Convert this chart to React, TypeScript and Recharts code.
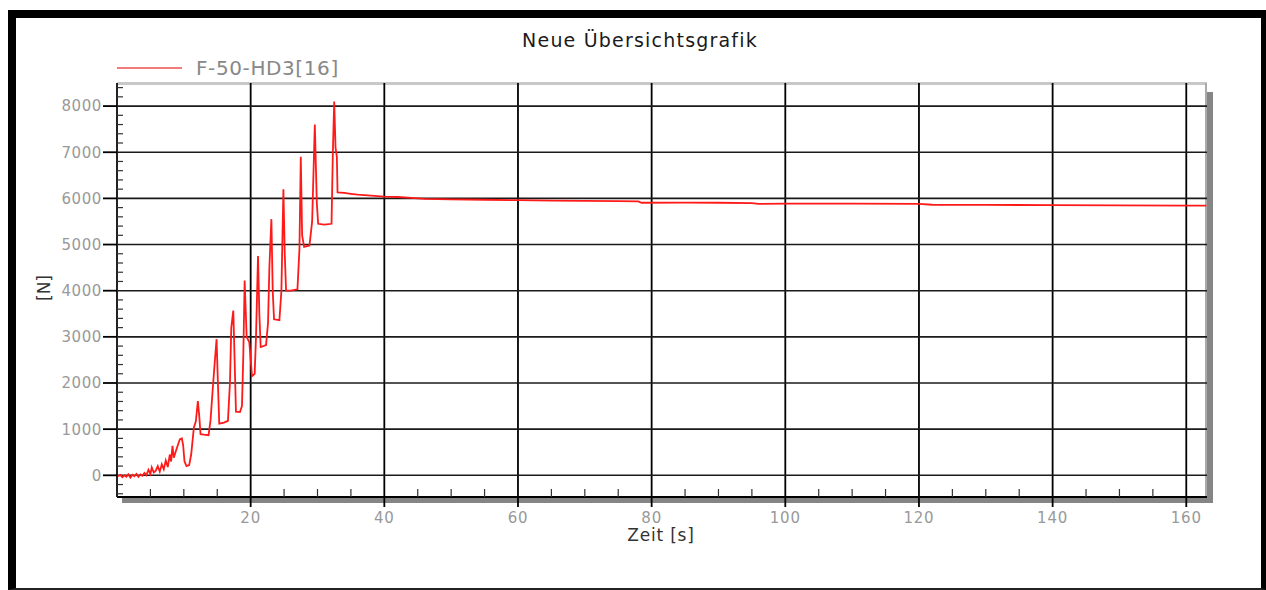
import { LineChart, Line, XAxis, YAxis, ReferenceLine } from 'recharts';

// Zeit [s]
const timeS = [
  0.1, 0.5, 0.8, 1.1, 1.4, 1.7, 2.0, 2.3, 2.6, 2.9, 3.2, 3.5, 3.8, 4.1, 4.4, 4.7, 5.0, 5.2, 5.5, 5.8,
  6.1, 6.4, 6.7, 7.0, 7.3, 7.6, 7.9, 8.1, 8.3, 8.5, 8.8, 9.1, 9.4, 9.7, 9.9, 10.1, 10.4, 10.8, 11.1,
  11.5, 11.8, 12.1, 12.3, 12.5, 13.0, 13.7, 14.0, 14.3, 14.6, 14.9, 15.1, 15.3, 16.0, 16.6, 16.9,
  17.1, 17.4, 17.6, 17.8, 18.4, 18.7, 18.9, 19.1, 19.4, 19.8, 20.2, 20.6, 20.8, 21.1, 21.3, 21.5,
  22.3, 22.6, 22.8, 23.1, 23.3, 23.5, 24.3, 24.6, 24.9, 25.1, 25.3, 26.0, 27.0, 27.3, 27.5, 27.7,
  28.0, 28.8, 29.2, 29.6, 29.9, 30.1, 31.0, 32.1, 32.3, 32.5, 32.7, 32.9, 33.0, 34, 35, 36, 38, 40,
  42, 44, 46, 50, 55, 60, 65, 70, 75, 78, 78.5, 85, 90, 95, 96, 100, 110, 120, 122, 130, 140, 150,
  160, 163,
];

// F-50-HD3[16] in [N]
const forceN = [
  -20, 10, -40, 0, -30, 20, -50, 10, -20, 30, -30, 20, -10, 50, 0, 120, 30, 170, 60, 100,
  200, 80, 240, 130, 320, 180, 450, 300, 640, 380, 520, 650, 780, 800, 650, 300, 200, 220, 450,
  1030, 1170, 1610, 1300, 890, 880, 870, 1200, 1820, 2400, 2950, 2000, 1120, 1140, 1180, 2000,
  3200, 3570, 2500, 1380, 1370, 1500, 2600, 4220, 3000, 2880, 2150, 2200, 3000, 4750, 3500, 2780,
  2820, 3300, 4500, 5550, 4000, 3380, 3360, 4000, 6200, 4800, 4000, 4000, 4030, 4900, 6900, 5200,
  4950, 4980, 5500, 7600, 5900, 5450, 5430, 5450, 7000, 8100, 7100, 6900, 6130, 6120, 6100, 6080, 6060, 6040,
  6030, 6010, 5990, 5978, 5970, 5962, 5952, 5946, 5940, 5936, 5905, 5910, 5905, 5898, 5880, 5885, 5885, 5880, 5862, 5858, 5855, 5850,
  5845, 5845,
];

const xMajorTicks = [20, 40, 60, 80, 100, 120, 140, 160];
const xMinorTicks = [
  5, 10, 15, 25, 30, 35, 45, 50, 55, 65, 70, 75, 85, 90, 95, 105, 110, 115, 125, 130, 135, 145, 150, 155,
];
const yMajorTicks = [0, 1000, 2000, 3000, 4000, 5000, 6000, 7000, 8000];
const yMinorTicks = [
  -400, -200, 200, 400, 600, 800, 1200, 1400, 1600, 1800, 2200, 2400, 2600, 2800, 3200, 3400, 3600, 3800,
  4200, 4400, 4600, 4800, 5200, 5400, 5600, 5800, 6200, 6400, 6600, 6800, 7200, 7400, 7600, 7800, 8200, 8400,
];

const data = timeS.map((t, i) => ({ t, f: forceN[i] }));
const FONT = '"DejaVu Sans", Verdana, sans-serif';

// tickSize/tickMargin are 0, so x/y below sit right on the axis line
const renderXTick = (props: any) => {
  const { x, y, payload } = props;
  const major = xMajorTicks.includes(payload.value);
  if (!major) {
    return <line key={'xt' + payload.value} x1={x} x2={x} y1={y} y2={y - 8} stroke="#333" strokeWidth={1.2} />;
  }
  return (
    <g key={'xt' + payload.value}>
      <line x1={x} x2={x} y1={y} y2={y + 10} stroke="#000" strokeWidth={1.8} />
      <text x={x} y={y + 26} textAnchor="middle" fontSize={15} letterSpacing={0.8} fill="#999" fontFamily={FONT}>
        {payload.value}
      </text>
    </g>
  );
};

const renderYTick = (props: any) => {
  const { x, y, payload } = props;
  const major = yMajorTicks.includes(payload.value);
  if (!major) {
    return <line key={'yt' + payload.value} x1={x} x2={x + 6} y1={y} y2={y} stroke="#333" strokeWidth={1.2} />;
  }
  return (
    <g key={'yt' + payload.value}>
      <line x1={x - 14} x2={x} y1={y} y2={y} stroke="#000" strokeWidth={1.8} />
      <text x={x - 15} y={y} dy="0.36em" textAnchor="end" fontSize={15} letterSpacing={0.6} fill="#999" fontFamily={FONT}>
        {payload.value}
      </text>
    </g>
  );
};

export default function App() {
  return (
    <div style={{ position: 'absolute', left: 0, top: 0, width: 1266, height: 590, background: '#fff', overflow: 'hidden' }}>
      {/* outer frame */}
      <div
        style={{
          position: 'absolute', left: 8, top: 10, width: 1258, height: 580, boxSizing: 'border-box',
          borderTop: '8px solid #000', borderLeft: '8px solid #000', borderRight: '5px solid #000', borderBottom: '2px solid #222',
        }}
      />
      {/* plot shadow + border */}
      <div style={{ position: 'absolute', left: 1207, top: 92, width: 6, height: 411, background: '#858585' }} />
      <div style={{ position: 'absolute', left: 122, top: 497, width: 1091, height: 6, background: '#858585' }} />
      <div style={{ position: 'absolute', left: 117, top: 82, width: 1090, height: 3, background: '#c8c8c8' }} />
      <div style={{ position: 'absolute', left: 1205, top: 83, width: 2, height: 414, background: '#aaa' }} />

      <div style={{ position: 'absolute', left: 0, top: 0 }}>
        <LineChart width={1266} height={590} data={data} margin={{ top: 83, right: 59, bottom: 43, left: 57 }}>
          <XAxis
            dataKey="t"
            type="number"
            domain={[0, 163.1]}
            allowDataOverflow
            ticks={[...xMinorTicks, ...xMajorTicks].sort((a, b) => a - b)}
            interval={0}
            height={50}
            tickSize={0}
            tickMargin={0}
            tickLine={false}
            tick={renderXTick}
            axisLine={{ stroke: '#000', strokeWidth: 2 }}
          />
          <YAxis
            type="number"
            domain={[-470, 8500]}
            allowDataOverflow
            ticks={[...yMinorTicks, ...yMajorTicks].sort((a, b) => a - b)}
            interval={0}
            width={60}
            tickSize={0}
            tickMargin={0}
            tickLine={false}
            tick={renderYTick}
            axisLine={{ stroke: '#222', strokeWidth: 2 }}
          />
          {xMajorTicks.map((v) => (
            <ReferenceLine key={'x' + v} x={v} stroke="#000" strokeWidth={1.8} />
          ))}
          {yMajorTicks.map((v) => (
            <ReferenceLine key={'y' + v} y={v} stroke="#1a1a1a" strokeWidth={1.6} />
          ))}
          <Line
            type="linear"
            dataKey="f"
            stroke="#ff1a1a"
            strokeWidth={1.8}
            dot={false}
            isAnimationActive={false}
          />
        </LineChart>
      </div>

      {/* texts */}
      <svg width={1266} height={590} style={{ position: 'absolute', left: 0, top: 0, pointerEvents: 'none' }}>
        <text x={640} y={47} textAnchor="middle" fontSize={19} letterSpacing={1.2} fill="#1a1a1a" fontFamily={FONT}>
          Neue Übersichtsgrafik
        </text>
        <line x1={117} x2={182} y1={68} y2={68} stroke="#f27a7a" strokeWidth={2} />
        <text x={196} y={75} fontSize={20} letterSpacing={0.6} fill="#888" fontFamily={FONT}>
          F-50-HD3[16]
        </text>
        <text
          x={44}
          y={288}
          transform="rotate(-90 44 288)"
          textAnchor="middle"
          dy="0.36em"
          fontSize={17}
          fill="#333"
          fontFamily={FONT}
        >
          [N]
        </text>
        <text x={661} y={541} textAnchor="middle" fontSize={17} letterSpacing={0.8} fill="#333" fontFamily={FONT}>
          Zeit [s]
        </text>
      </svg>
    </div>
  );
}
